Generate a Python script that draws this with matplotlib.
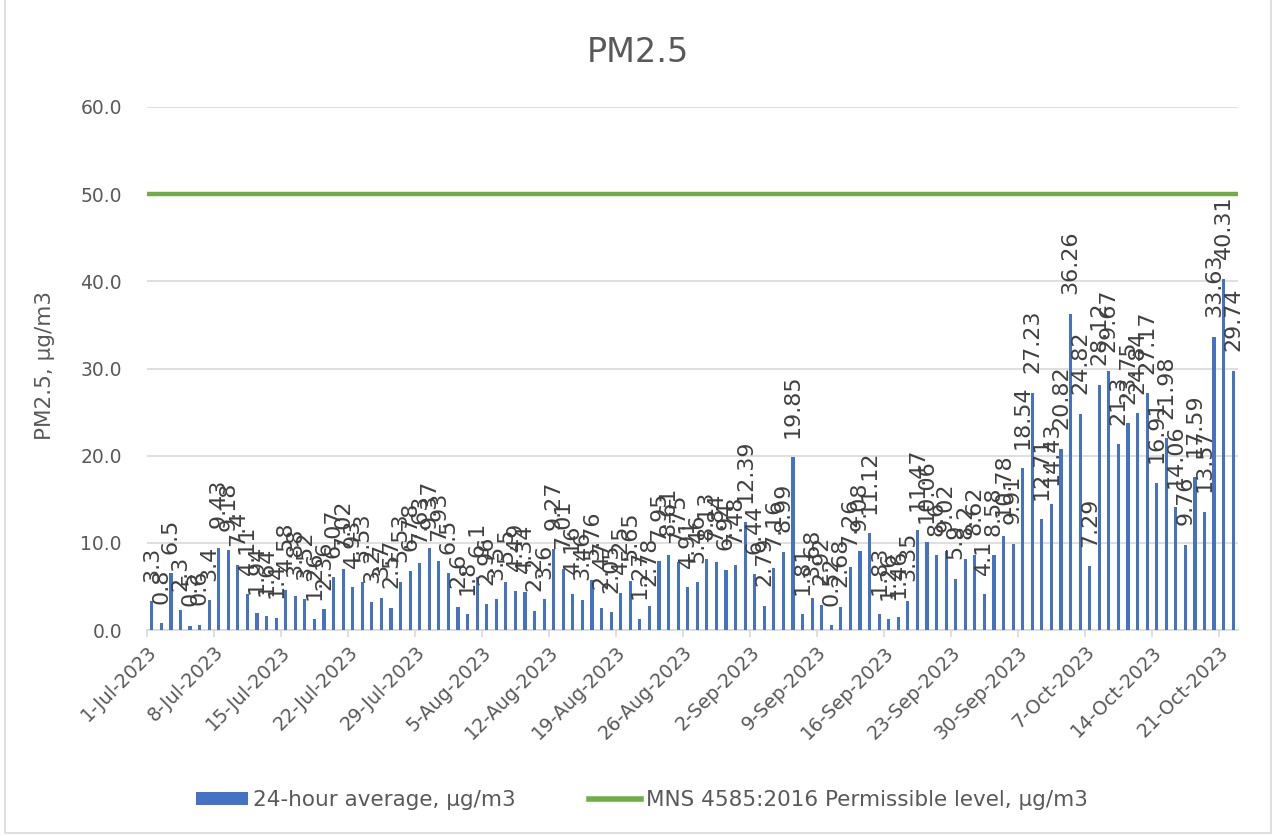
import numpy as np
import matplotlib
matplotlib.use("Agg")
from matplotlib import pyplot as plt
from matplotlib.patches import Rectangle, Patch
from matplotlib.lines import Line2D

# daily 24-hour averages, 1-Jul-2023 .. 22-Oct-2023
pm25 = [
    3.3, 0.8, 6.5, 2.3, 0.5, 0.6, 3.4,
    9.43, 9.18, 7.40, 4.11, 1.94, 1.64, 1.4,
    4.58, 3.88, 3.52, 1.26, 2.36, 6.07, 7.02,
    4.93, 5.53, 3.2, 3.70, 2.57, 5.53, 6.78,
    7.63, 9.37, 7.93, 6.5, 2.6, 1.8, 6.1,
    2.96, 3.5, 5.5, 4.49, 4.34, 2.2, 3.60,
    9.27, 7.01, 4.16, 3.46, 5.76, 2.47, 2.05,
    4.25, 5.65, 1.27, 2.78, 7.95, 8.61, 7.75,
    4.91, 5.46, 8.13, 7.84, 6.94, 7.48, 12.39,
    6.44, 2.79, 7.16, 8.99, 19.85, 1.81, 3.68,
    2.92, 0.52, 2.68, 7.26, 9.08, 11.12, 1.83,
    1.26, 1.46, 3.35, 11.47, 10.06, 8.6, 9.02,
    5.9, 8.2, 8.62, 4.1, 8.58, 10.78, 9.91,
    18.54, 27.23, 12.71, 14.43, 20.82, 36.26, 24.82,
    7.29, 28.12, 29.67, 21.3, 23.75, 24.84, 27.17,
    16.91, 21.98, 14.06, 9.76, 17.59, 13.57, 33.63,
    40.31, 29.74,
]
limit = 50.0

tick_labels = ['1-Jul-2023', '8-Jul-2023', '15-Jul-2023', '22-Jul-2023',
               '29-Jul-2023', '5-Aug-2023', '12-Aug-2023', '19-Aug-2023',
               '26-Aug-2023', '2-Sep-2023', '9-Sep-2023', '16-Sep-2023',
               '23-Sep-2023', '30-Sep-2023', '7-Oct-2023', '14-Oct-2023',
               '21-Oct-2023']

bar_label = '24-hour average, µg/m3'
line_label = 'MNS 4585:2016 Permissible level, µg/m3'

blue = '#4472c4'
green = '#70ad47'
grey_txt = '#595959'
grid_c = '#d9d9d9'

plt.rcParams['font.family'] = ['DejaVu Sans']

fig = plt.figure(figsize=(12.76, 8.36), dpi=100)
ax = fig.add_axes([147 / 1276, 206 / 836, 1091 / 1276, 523 / 836])

x = np.arange(len(pm25))
ax.bar(x, pm25, width=0.33, color=blue, zorder=3)
ax.plot([-0.5, len(pm25) - 0.5], [limit, limit], color=green, lw=3.2,
        solid_capstyle='butt', zorder=4)

for xi, v in zip(x, pm25):
    ax.annotate('{:g}'.format(v), (xi, v), xytext=(0, 14),
                textcoords='offset points', rotation=90, ha='center',
                va='bottom', fontsize=16, color='#404040', zorder=5)

ax.set_xlim(-0.5, len(pm25) - 0.5)
ax.set_ylim(0, 60)
ax.set_yticks(np.arange(0, 61, 10))
ax.set_yticklabels(['{:.1f}'.format(t) for t in np.arange(0, 61, 10)])
ax.set_xticks(x[::7] - 0.5)
ax.set_xticklabels(tick_labels, rotation=45, ha='right',
                   rotation_mode='anchor')

ax.grid(axis='y', color=grid_c, lw=1.2, zorder=0)
for s in ['top', 'right', 'left']:
    ax.spines[s].set_visible(False)
ax.spines['bottom'].set_color(grid_c)
ax.spines['bottom'].set_linewidth(1.2)
ax.tick_params(axis='y', length=0, pad=18, labelsize=13.5, labelcolor=grey_txt)
ax.tick_params(axis='x', length=5, color=grid_c, width=1.2, pad=4,
               labelsize=13.8, labelcolor=grey_txt)

fig.text(0.5, 1 - 52 / 836, 'PM2.5', ha='center', va='center',
         fontsize=24, color=grey_txt)
fig.text(45 / 1276, 1 - 366 / 836, 'PM2.5, µg/m3', rotation=90,
         ha='center', va='center', fontsize=15.5, color=grey_txt)

handles = [Patch(facecolor=blue, edgecolor='none'),
           Line2D([0], [0], color=green, lw=4)]
fig.legend(handles, [bar_label, line_label], loc='center',
           bbox_to_anchor=(642 / 1276, 1 - 800 / 836), ncol=2, frameon=False,
           fontsize=15.5, labelcolor=grey_txt, columnspacing=3.4,
           handlelength=2.4, handleheight=0.55, handletextpad=0.25)

fig.patches.append(Rectangle((5 / 1276, 3 / 836), 1266 / 1276, 840 / 836,
                             transform=fig.transFigure, fill=False,
                             edgecolor=grid_c, lw=1.2))

fig.savefig('out.png', dpi=100, facecolor='white')
